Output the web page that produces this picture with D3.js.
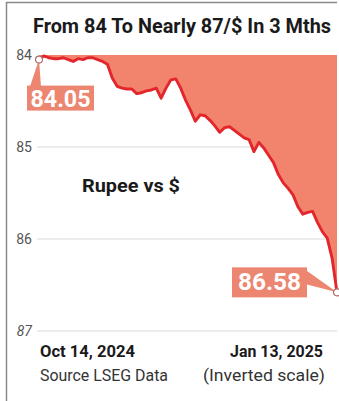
<!DOCTYPE html>
<html><head><meta charset="utf-8">
<script src="https://cdn.jsdelivr.net/npm/d3@7"></script>
<style>html,body{margin:0;padding:0;background:#fff;}svg{display:block;}</style>
</head><body>
<script>
const title = "From 84 To Nearly 87/$ In 3 Mths";
const seriesName = "Rupee vs $";
const yTicks = [84, 85, 86, 87];
const xTickLabels = ["Oct 14, 2024", "Jan 13, 2025"];
const footLeft = "Source LSEG Data";
const footRight = "(Inverted scale)";
const startLabel = "84.05";
const endLabel = "86.58";
const rates = [84.05,84.01,84.03,84.04,84.04,84.03,84.05,84.07,84.04,84.05,
  84.03,84.03,84.05,84.07,84.10,84.25,84.34,84.36,84.37,84.37,
  84.42,84.41,84.39,84.38,84.36,84.47,84.36,84.27,84.26,84.36,
  84.49,84.60,84.72,84.65,84.66,84.71,84.77,84.84,84.79,84.78,
  84.82,84.86,84.90,84.92,85.05,84.95,85.01,85.09,85.17,85.30,
  85.39,85.45,85.52,85.65,85.73,85.71,85.70,85.82,85.92,85.99,
  86.21,86.58];

const W = 339, H = 401;
const svg = d3.select("body").append("svg").attr("width", W).attr("height", H);
const font = "'Liberation Sans Narrow','Roboto','DejaVu Sans Condensed',sans-serif";

// frame
svg.append("path").attr("d", "M6.5,401 V2.5 H337").attr("fill", "none").attr("stroke", "#8a8a8a").attr("stroke-width", 1.5);

// title
svg.append("text").attr("x", 33).attr("y", 33).attr("textLength", 298).attr("lengthAdjust", "spacingAndGlyphs")
  .attr("font-family", font).attr("font-weight", "bold").attr("font-size", 19.5).attr("fill", "#1a1a1a").text(title);

const x = d3.scaleLinear().domain([0, rates.length - 1]).range([39, 337]);
const y = d3.scaleLinear().domain([84, 87]).range([55, 331]);

// gridlines
svg.append("g").selectAll("line").data(yTicks.slice(1)).join("line")
  .attr("x1", 37).attr("x2", 337).attr("y1", d => y(d)).attr("y2", d => y(d))
  .attr("stroke", "#d9d9d9").attr("stroke-width", 1.2);

// y tick labels
svg.append("g").selectAll("text").data(yTicks).join("text")
  .attr("x", 32).attr("y", d => y(d) + 5).attr("text-anchor", "end")
  .attr("font-family", font).attr("font-size", 14).attr("fill", "#555")
  .attr("font-style", d => d === 87 ? "italic" : null).text(d => d);

// fill
const area = d3.area().x((d, i) => x(i)).y0(y(84)).y1(d => y(d));
svg.append("path").datum(rates).attr("d", area).attr("fill", "#F2836D");

// line
const line = d3.line().x((d, i) => x(i)).y(d => y(d));
svg.append("path").datum(rates).attr("d", line).attr("fill", "none")
  .attr("stroke", "#E3262B").attr("stroke-width", 2.9).attr("stroke-linejoin", "round");

// start label
const boxColor = "#EC8670";
const sx = x(0), sy = y(rates[0]);
svg.append("path").attr("d", `M${sx},${sy} L${sx - 9},${sy + 27} L${sx + 2},${sy + 27} Z`).attr("fill", boxColor);
svg.append("rect").attr("x", 27).attr("y", sy + 26).attr("width", 67).attr("height", 25).attr("fill", boxColor);
svg.append("text").attr("x", 60.5).attr("y", sy + 47).attr("text-anchor", "middle")
  .attr("font-family", font).attr("font-weight", "bold").attr("font-size", 23).attr("fill", "#fff")
  .attr("textLength", 60).attr("lengthAdjust", "spacingAndGlyphs").text(startLabel);

// end label
const ex = x(rates.length - 1), ey = y(rates[rates.length - 1]);
svg.append("path").attr("d", `M${ex},${ey} L306,${ey - 22} L306,${ey - 8} Z`).attr("fill", boxColor);
svg.append("rect").attr("x", 232).attr("y", ey - 25).attr("width", 75).attr("height", 30).attr("fill", boxColor);
svg.append("text").attr("x", 269.5).attr("y", ey - 2).attr("text-anchor", "middle")
  .attr("font-family", font).attr("font-weight", "bold").attr("font-size", 23).attr("fill", "#fff")
  .attr("textLength", 63).attr("lengthAdjust", "spacingAndGlyphs").text(endLabel);

// markers
svg.append("g").selectAll("circle").data([0, rates.length - 1]).join("circle")
  .attr("cx", i => x(i)).attr("cy", i => y(rates[i])).attr("r", 3.5)
  .attr("fill", "#fff").attr("stroke", "#b06a6a").attr("stroke-width", 1.2);

// series name
svg.append("text").attr("x", 82).attr("y", 192).attr("textLength", 98).attr("lengthAdjust", "spacingAndGlyphs")
  .attr("font-family", font).attr("font-weight", "bold").attr("font-size", 18).attr("fill", "#1a1a1a").text(seriesName);

// x tick labels
svg.append("text").attr("x", 40).attr("y", 357).attr("textLength", 95).attr("lengthAdjust", "spacingAndGlyphs")
  .attr("font-family", font).attr("font-weight", "bold").attr("font-size", 16).attr("fill", "#1a1a1a").text(xTickLabels[0]);
svg.append("text").attr("x", 230).attr("y", 357).attr("textLength", 93).attr("lengthAdjust", "spacingAndGlyphs")
  .attr("font-family", font).attr("font-weight", "bold").attr("font-size", 16).attr("fill", "#1a1a1a").text(xTickLabels[1]);

// footnotes
svg.append("text").attr("x", 40).attr("y", 381).attr("textLength", 128).attr("lengthAdjust", "spacingAndGlyphs")
  .attr("font-family", font).attr("font-size", 16).attr("fill", "#333").text(footLeft);
svg.append("text").attr("x", 203).attr("y", 381).attr("textLength", 122).attr("lengthAdjust", "spacingAndGlyphs")
  .attr("font-family", font).attr("font-size", 16).attr("fill", "#333").text(footRight);
</script>
</body></html>
